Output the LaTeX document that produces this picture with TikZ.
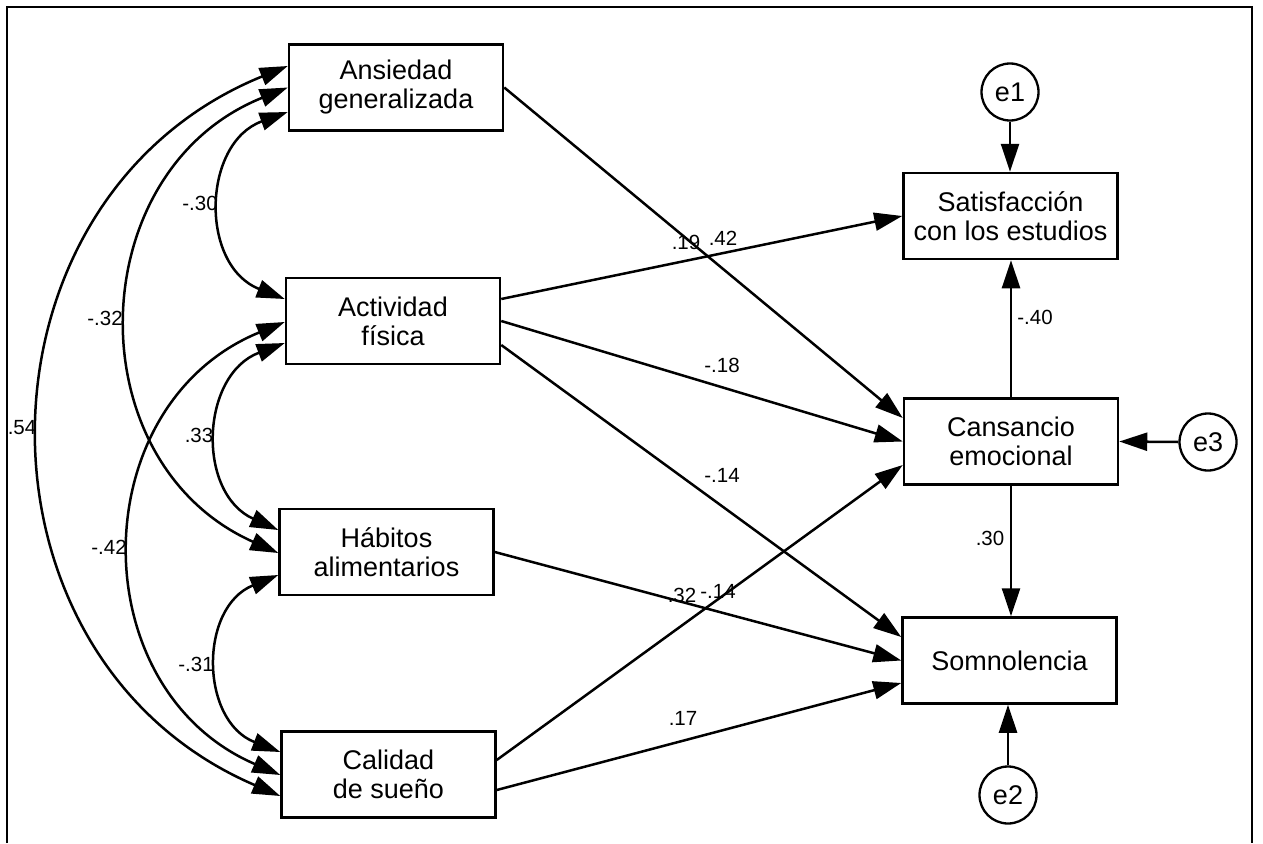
\documentclass[tikz,border=0pt]{standalone}
\usepackage{fontspec}
\setmainfont{Liberation Sans}
\usetikzlibrary{arrows.meta}
\begin{document}
\begin{tikzpicture}[x=1pt,y=-1pt,
  var/.style={draw,line width=2.5pt,minimum width=214pt,minimum height=86pt,inner sep=0pt,
    align=center,font=\fontsize{27}{29}\selectfont},
  err/.style={draw,circle,line width=2.3pt,minimum size=57pt,inner sep=0pt,font=\fontsize{27}{29}\selectfont},
  coef/.style={inner sep=0pt,font=\fontsize{20.5}{22}\selectfont},
  path/.style={line width=2.5pt,-{Triangle[length=28pt,width=18pt]}},
  cov/.style={line width=2.5pt,{Triangle[length=28pt,width=18pt]}-{Triangle[length=28pt,width=18pt]}},
  frameline/.style={line width=2.2pt}]
\useasboundingbox (0,0) rectangle (1263,843);
\draw[frameline] (7,843) -- (7,7) -- (1252,7) -- (1252,843);

% observed variables
\node[var] (ans) at (396,87.5) {Ansiedad\\generalizada};
\node[var] (act) at (393,321) {Actividad\\física};
\node[var] (hab) at (386.5,552) {Hábitos\\alimentarios};
\node[var] (cal) at (388.5,774.5) {Calidad\\de sueño};
\node[var] (sat) at (1010.5,216) {Satisfacción\\con los estudios};
\node[var] (can) at (1011,441.5) {Cansancio\\emocional};
\node[var] (som) at (1009.5,660.5) {Somnolencia};

% errors
\node[err] (e1) at (1010,92) {e1};
\node[err] (e3) at (1208,442) {e3};
\node[err] (e2) at (1008,795) {e2};

% error paths
\draw[path] (e1.south) -- (e1.south |- sat.north);
\draw[path] (e3.west) -- (can.east);
\draw[path] (e2.north) -- (e2.north |- som.south);

% structural paths
\draw[path] (ans.east) -- ([yshift=23.5pt]can.west);
\draw[path] ([yshift=22pt]act.east) -- (sat.west);
\draw[path] (act.east) -- (can.west);
\draw[path] ([yshift=-24pt]act.east) -- ([yshift=23.5pt]som.west);
\draw[path] (hab.east) -- (som.west);
\draw[path] ([yshift=14.5pt]cal.east) -- ([yshift=-23.5pt]can.west);
\draw[path] ([yshift=-15.5pt]cal.east) -- ([yshift=-22.5pt]som.west);
\draw[path] (can.north) -- (can.north |- sat.south);
\draw[path] (can.south) -- (can.south |- som.north);

% covariances
\draw[cov] ([yshift=-24.5pt]ans.west) .. controls +(-85.6,30.9) and +(-85.6,-33.6) .. ([yshift=22pt]act.west);
\draw[cov] (ans.west) .. controls +(-206.8,83.1) and +(-203.6,-90.7) .. ([yshift=-1pt]hab.west);
\draw[cov] ([yshift=21.5pt]ans.west) .. controls +(-325,132.3) and +(-322.6,-138.3) .. ([yshift=-21.5pt]cal.west);
\draw[cov] ([yshift=-22pt]act.west) .. controls +(-84.3,31.7) and +(-82.1,-37) .. ([yshift=22pt]hab.west);
\draw[cov] ([yshift=-1pt]act.west) .. controls +(-201.5,82.5) and +(-199.8,-86.2) .. ([yshift=-0.5pt]cal.west);
\draw[cov] ([yshift=-23pt]hab.west) .. controls +(-79.6,32.6) and +(-80.2,-31) .. ([yshift=22.5pt]cal.west);

% coefficients
\node[coef] (c1) at (200,203) {-.30};
\node[coef] (c2) at (105,318) {-.32};
\node[coef] (c3) at (22,428) {.54};
\node[coef] (c4) at (199,435) {.33};
\node[coef] (c5) at (109,547) {-.42};
\node[coef] (c6) at (196,664) {-.31};
\node[coef] (c7) at (686,242) {.19};
\node[coef] (c8) at (723,238) {.42};
\node[coef] (c9) at (722,365) {-.18};
\node[coef] (c10) at (722,475) {-.14};
\node[coef] (c11) at (682,595) {.32};
\node[coef] (c12) at (718,591) {-.14};
\node[coef] (c13) at (683,718) {.17};
\node[coef] (c14) at (1035,317) {-.40};
\node[coef] (c15) at (990,538) {.30};
\end{tikzpicture}
\end{document}
